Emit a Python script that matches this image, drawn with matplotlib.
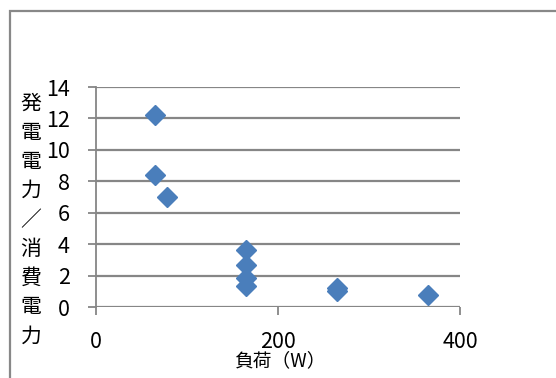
import matplotlib
matplotlib.use('Agg')
import matplotlib.pyplot as plt
from matplotlib.patches import Rectangle

plt.rcParams['font.family'] = ['Noto Sans CJK JP', 'DejaVu Sans']

# load (W) vs generated/consumed power ratio
load = [65, 65, 78, 165, 165, 165, 165, 265, 265, 365]
ratio = [12.2, 8.4, 7.0, 3.6, 2.7, 1.85, 1.35, 1.2, 1.0, 0.75]

xticks = [0, 200, 400]
yticks = [0, 2, 4, 6, 8, 10, 12, 14]
ylabel = '発電電力／消費電力'
xlabel = '負荷（W）'

grid_col = '#868686'
mark_col = '#4a7ebb'

fig = plt.figure(figsize=(5.56, 3.78), dpi=100)
ax = fig.add_axes([96/556, 1-307/378, 364/556, 220/378])

ax.plot(load, ratio, linestyle='none', marker='D', ms=10,
        color=mark_col, markeredgecolor=mark_col, zorder=3, clip_on=False)

ax.set_xlim(0, 400)
ax.set_ylim(0, 14)
ax.set_xticks(xticks)
ax.set_yticks(yticks)
ax.tick_params(axis='x', length=6, width=1.3, color=grid_col,
               pad=11, labelsize=15.5)
ax.tick_params(axis='y', length=6, width=1.3, color=grid_col,
               pad=13, labelsize=15.5)
ax.yaxis.grid(True, color=grid_col, lw=1.6)
ax.set_axisbelow(True)
for s in ['top', 'right', 'bottom']:
    ax.spines[s].set_visible(False)
ax.spines['left'].set_color(grid_col)
ax.spines['left'].set_linewidth(1.3)

# vertical stacked y label
fig.text(31/556, 1-220/378, '\n'.join(ylabel), ha='center', va='center',
         fontsize=15, linespacing=1.42)
fig.text(280/556, 1-361/378, xlabel, ha='center', va='center', fontsize=13.5)

# outer chart frame
fig.patches.append(Rectangle((10/556, -0.1), 1.2, 1-11/378+0.1,
                             transform=fig.transFigure, fill=False,
                             edgecolor='#888888', lw=1.6))

fig.savefig('out.png', dpi=100)
